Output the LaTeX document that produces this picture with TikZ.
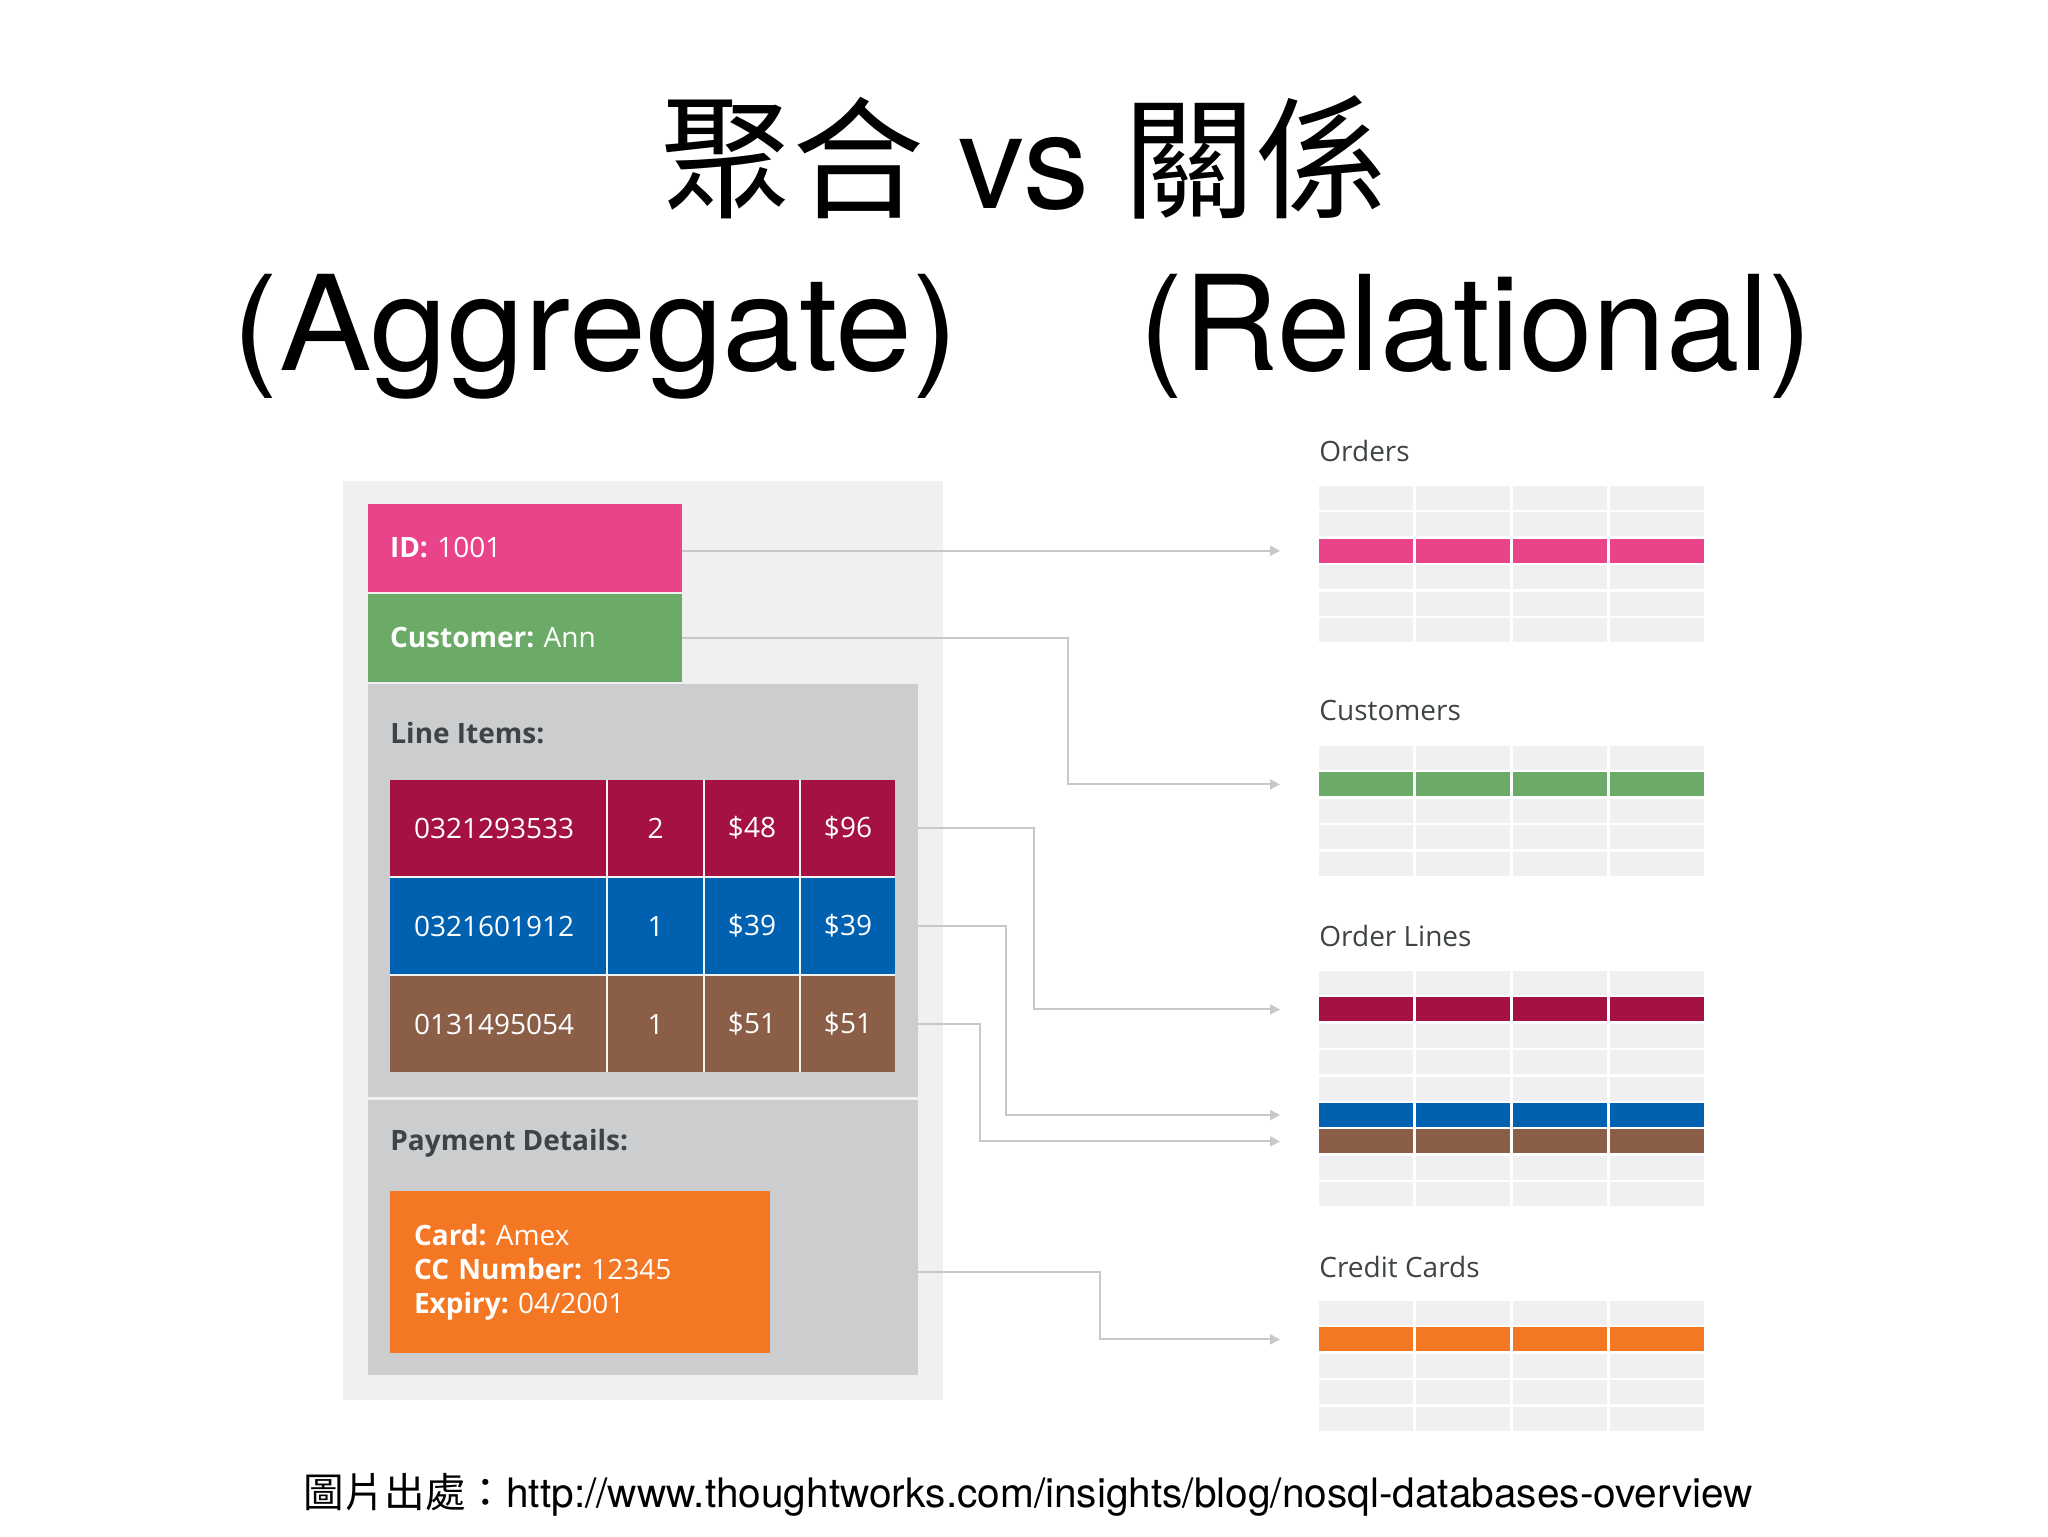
\documentclass[tikz,border=0pt]{standalone}
\usepackage{fontspec}
\setmainfont{Open Sans}
\newfontfamily\heros{TeX Gyre Heros}
\newfontfamily\cjk{Noto Sans CJK TC}
\usetikzlibrary{positioning,arrows.meta}

\definecolor{idpink}{HTML}{E9448A}
\definecolor{custgreen}{HTML}{6CAB67}
\definecolor{itemred}{HTML}{A51242}
\definecolor{itemblue}{HTML}{0061B1}
\definecolor{itembrown}{HTML}{8B5F47}
\definecolor{cardorange}{HTML}{F47723}
\definecolor{panelgrey}{HTML}{CBCDCE}
\definecolor{docgrey}{HTML}{F0F0F1}
\definecolor{cellgrey}{HTML}{F0EFF1}
\definecolor{labelgrey}{HTML}{3E4346}
\definecolor{linkgrey}{HTML}{C8C8CA}

\tikzset{
  panel/.style={anchor=north west, inner sep=0pt, outer sep=0pt},
  box/.style={anchor=north west, inner xsep=11pt, inner ysep=0pt, outer sep=0pt,
    text width=135pt, align=left, minimum height=44pt, text=white,
    font=\fontsize{14}{17}\selectfont},
  itemcell/.style={anchor=north west, inner sep=0pt, outer sep=0pt,
    minimum width=47pt, minimum height=48pt, text=white,
    font=\fontsize{14}{17}\selectfont},
  cell/.style={anchor=north west, inner sep=0pt, outer sep=0pt,
    minimum width=47pt, minimum height=12pt, fill=cellgrey},
  caption/.style={anchor=west, inner sep=0pt, text=labelgrey,
    font=\fontsize{14}{17}\selectfont},
  heading/.style={anchor=base, inner sep=0pt, font=\fontsize{66}{70}\selectfont},
  link/.style={draw=linkgrey, line width=1pt, -{Triangle[length=5pt,width=5pt]}},
}

\begin{document}
\begin{tikzpicture}[x=0.5pt, y=-0.5pt]
    \useasboundingbox (0,0) rectangle (2048,1536);

    % title
    \node[heading] (title) at (1024,208) {{\cjk 聚合} {\heros vs} {\cjk 關係}};
    \node[heading, xscale=1.05, transform shape] (aggr) at (596,370) {\heros (Aggregate)};
    \node[heading] (rel) at (1476,370) {\heros (Relational)};

    % aggregate: one order document
    \node[panel, fill=docgrey, minimum width=300pt, minimum height=459.5pt] (doc) at (343,481) {};
    \node[box, fill=idpink] (idbox) at (368,504) {\textbf{ID:}~1001};
    \node[box, fill=custgreen] (custbox) at (368,594) {\textbf{Customer:}~Ann};
    \node[panel, fill=panelgrey, minimum width=275pt, minimum height=206.5pt] (items) at (368,684) {};
    \node[caption] (itemslabel) at (390,733) {\textbf{Line Items:}};
    \fill[white!75!panelgrey] (390,780) rectangle (895,1072);
    \foreach \y/\col/\code/\qty/\each/\total [count=\i] in
        {780/itemred/0321293533/2/48/96,
         878/itemblue/0321601912/1/39/39,
         976/itembrown/0131495054/1/51/51} {
      \node[itemcell, fill=\col, minimum width=108pt, inner xsep=12pt,
            text width=84pt, align=left] (code-\i) at (390,\y) {\code};
      \node[itemcell, fill=\col, minimum width=47.5pt] (qty-\i) at (608,\y) {\qty};
      \node[itemcell, fill=\col] (each-\i) at (705,\y) {\$\each};
      \node[itemcell, fill=\col] (total-\i) at (801,\y) {\$\total};
    }
    \node[panel, fill=panelgrey, minimum width=275pt, minimum height=137.5pt] (payment) at (368,1100) {};
    \node[caption] (paylabel) at (390,1143) {\textbf{Payment Details:}};
    \node[box, fill=cardorange, inner xsep=12pt, text width=166pt, minimum height=81pt]
        (card) at (390,1191) {\textbf{Card:}~Amex\\ \textbf{CC Number:}~12345\\ \textbf{Expiry:}~04/2001};

    % relational: four tables
    \node[caption] (orders) at (1319,451) {Orders};
    \foreach \r in {0,...,5}
      \foreach \c in {0,...,3}
        \node[cell] (ordcell-\r-\c) at ({1319+97*\c},{486+26.4*\r}) {};
    \foreach \c in {0,...,3}
      \node[cell, fill=idpink] (ordrow-\c) at ({1319+97*\c},{486+26.4*2}) {};

    \node[caption] (customers) at (1319,710) {Customers};
    \foreach \r in {0,...,4}
      \foreach \c in {0,...,3}
        \node[cell] (cuscell-\r-\c) at ({1319+97*\c},{746+26.4*\r}) {};
    \foreach \c in {0,...,3}
      \node[cell, fill=custgreen] (cusrow-\c) at ({1319+97*\c},{746+26.4*1}) {};

    \node[caption] (orderlines) at (1319,936) {Order Lines};
    \foreach \r in {0,...,8}
      \foreach \c in {0,...,3}
        \node[cell] (olcell-\r-\c) at ({1319+97*\c},{971+26.4*\r}) {};
    \foreach \c in {0,...,3} {
      \node[cell, fill=itemred] (olred-\c) at ({1319+97*\c},{971+26.4*1}) {};
      \node[cell, fill=itemblue] (olblue-\c) at ({1319+97*\c},{971+26.4*5}) {};
      \node[cell, fill=itembrown] (olbrown-\c) at ({1319+97*\c},{971+26.4*6}) {};
    }

    \node[caption] (cards) at (1319,1267) {Credit Cards};
    \foreach \r in {0,...,4}
      \foreach \c in {0,...,3}
        \node[cell] (cccell-\r-\c) at ({1319+97*\c},{1301+26.4*\r}) {};
    \foreach \c in {0,...,3}
      \node[cell, fill=cardorange] (ccrow-\c) at ({1319+97*\c},{1301+26.4*1}) {};

    % links
    \draw[link] (idbox.east |- ordrow-0.west) -- ([xshift=-19.5pt]ordrow-0.west);
    \draw[link] (custbox.east) -- ++(386,0) |- ([xshift=-19.5pt]cusrow-0.west);
    \draw[link] (items.east |- code-1.east) -- ++(116,0) |- ([xshift=-19.5pt]olred-0.west);
    \draw[link] (items.east |- code-2.east) -- ++(88,0) |- ([xshift=-19.5pt]olblue-0.west);
    \draw[link] (items.east |- code-3.east) -- ++(62,0) |- ([xshift=-19.5pt]olbrown-0.west);
    \draw[link] (payment.east |- card.east) -- ++(182,0) |- ([xshift=-19.5pt]ccrow-0.west);

    % source
    \node[anchor=base west, inner sep=0pt, font=\fontsize{20.3}{24}\selectfont] (source) at (303,1507)
        {{\cjk 圖片出處：}{\heros http://www.thoughtworks.com/insights/blog/nosql-databases-overview}};
\end{tikzpicture}
\end{document}
